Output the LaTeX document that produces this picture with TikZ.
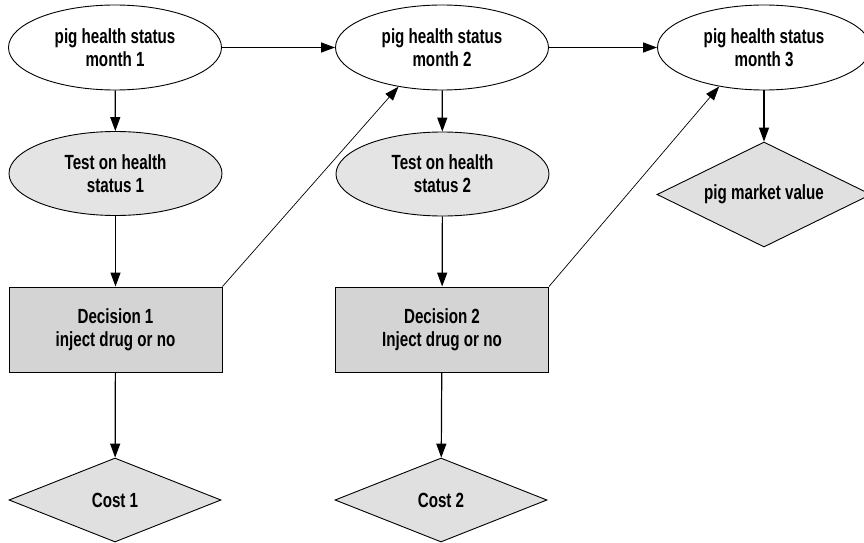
\documentclass[tikz,border=0pt]{standalone}
\usepackage{fontspec}
\newfontfamily\labelfont[FakeStretch=0.74]{Liberation Sans}
\usetikzlibrary{shapes.geometric,arrows.meta}
\definecolor{ellfill}{HTML}{E4E4E4}
\definecolor{rectfill}{HTML}{D4D4D4}
\definecolor{diafill}{HTML}{E0E0E0}
\begin{document}
\begin{tikzpicture}[x=1pt,y=-1pt,
  every node/.style={font=\labelfont\bfseries\fontsize{20.5}{23}\selectfont, align=center, inner sep=0pt, line width=0.9pt},
  chance/.style={ellipse, draw, fill=white, minimum width=213pt, minimum height=85pt},
  testnode/.style={ellipse, draw, fill=ellfill, minimum width=213pt, minimum height=84pt},
  decision/.style={rectangle, draw, fill=rectfill, minimum width=213pt, minimum height=85pt},
  utility/.style={diamond, aspect=2.5, draw, fill=diafill, minimum width=212pt, minimum height=84pt},
  arr/.style={-{Triangle[length=14pt,width=10pt]}, line width=1.2pt},
  thinarr/.style={-{Triangle[length=14pt,width=10pt]}, line width=0.7pt}
]
\useasboundingbox (0,0) rectangle (864,543);
\fill[white] (0,0) rectangle (864,543);

\node[chance] (e1) at (115,47.5) {pig health status\\month 1};
\node[chance] (e2) at (442,47.5) {pig health status\\month 2};
\node[chance] (e3) at (764,47.5) {pig health status\\month 3};

\node[testnode] (t1) at (115.5,173.5) {Test on health\\status 1};
\node[testnode] (t2) at (442.5,174) {Test on health\\status 2};

\node[decision] (d1) at (115.5,329.5) {Decision 1\\inject drug or no};
\node[decision] (d2) at (442,329.5) {Decision 2\\Inject drug or no};

\node[utility] (c1) at (115,500) {Cost 1};
\node[utility] (c2) at (441,500) {Cost 2};
\node[utility, minimum height=105pt, minimum width=214pt] (mv) at (764,194.5) {pig market value};

\draw[arr] (e1) -- (e2);
\draw[arr] (e2) -- (e3);
\draw[arr] (e1) -- (t1);
\draw[arr] (t1) -- (d1);
\draw[arr] (d1) -- (c1);
\draw[arr] (e2) -- (t2);
\draw[arr] (t2) -- (d2);
\draw[arr] (d2) -- (c2);
\draw[arr] (e3) -- (mv);
\draw[thinarr] (d1.north east) -- (e2.222);
\draw[thinarr] (d2.north east) -- (e3.221);
\end{tikzpicture}
\end{document}
